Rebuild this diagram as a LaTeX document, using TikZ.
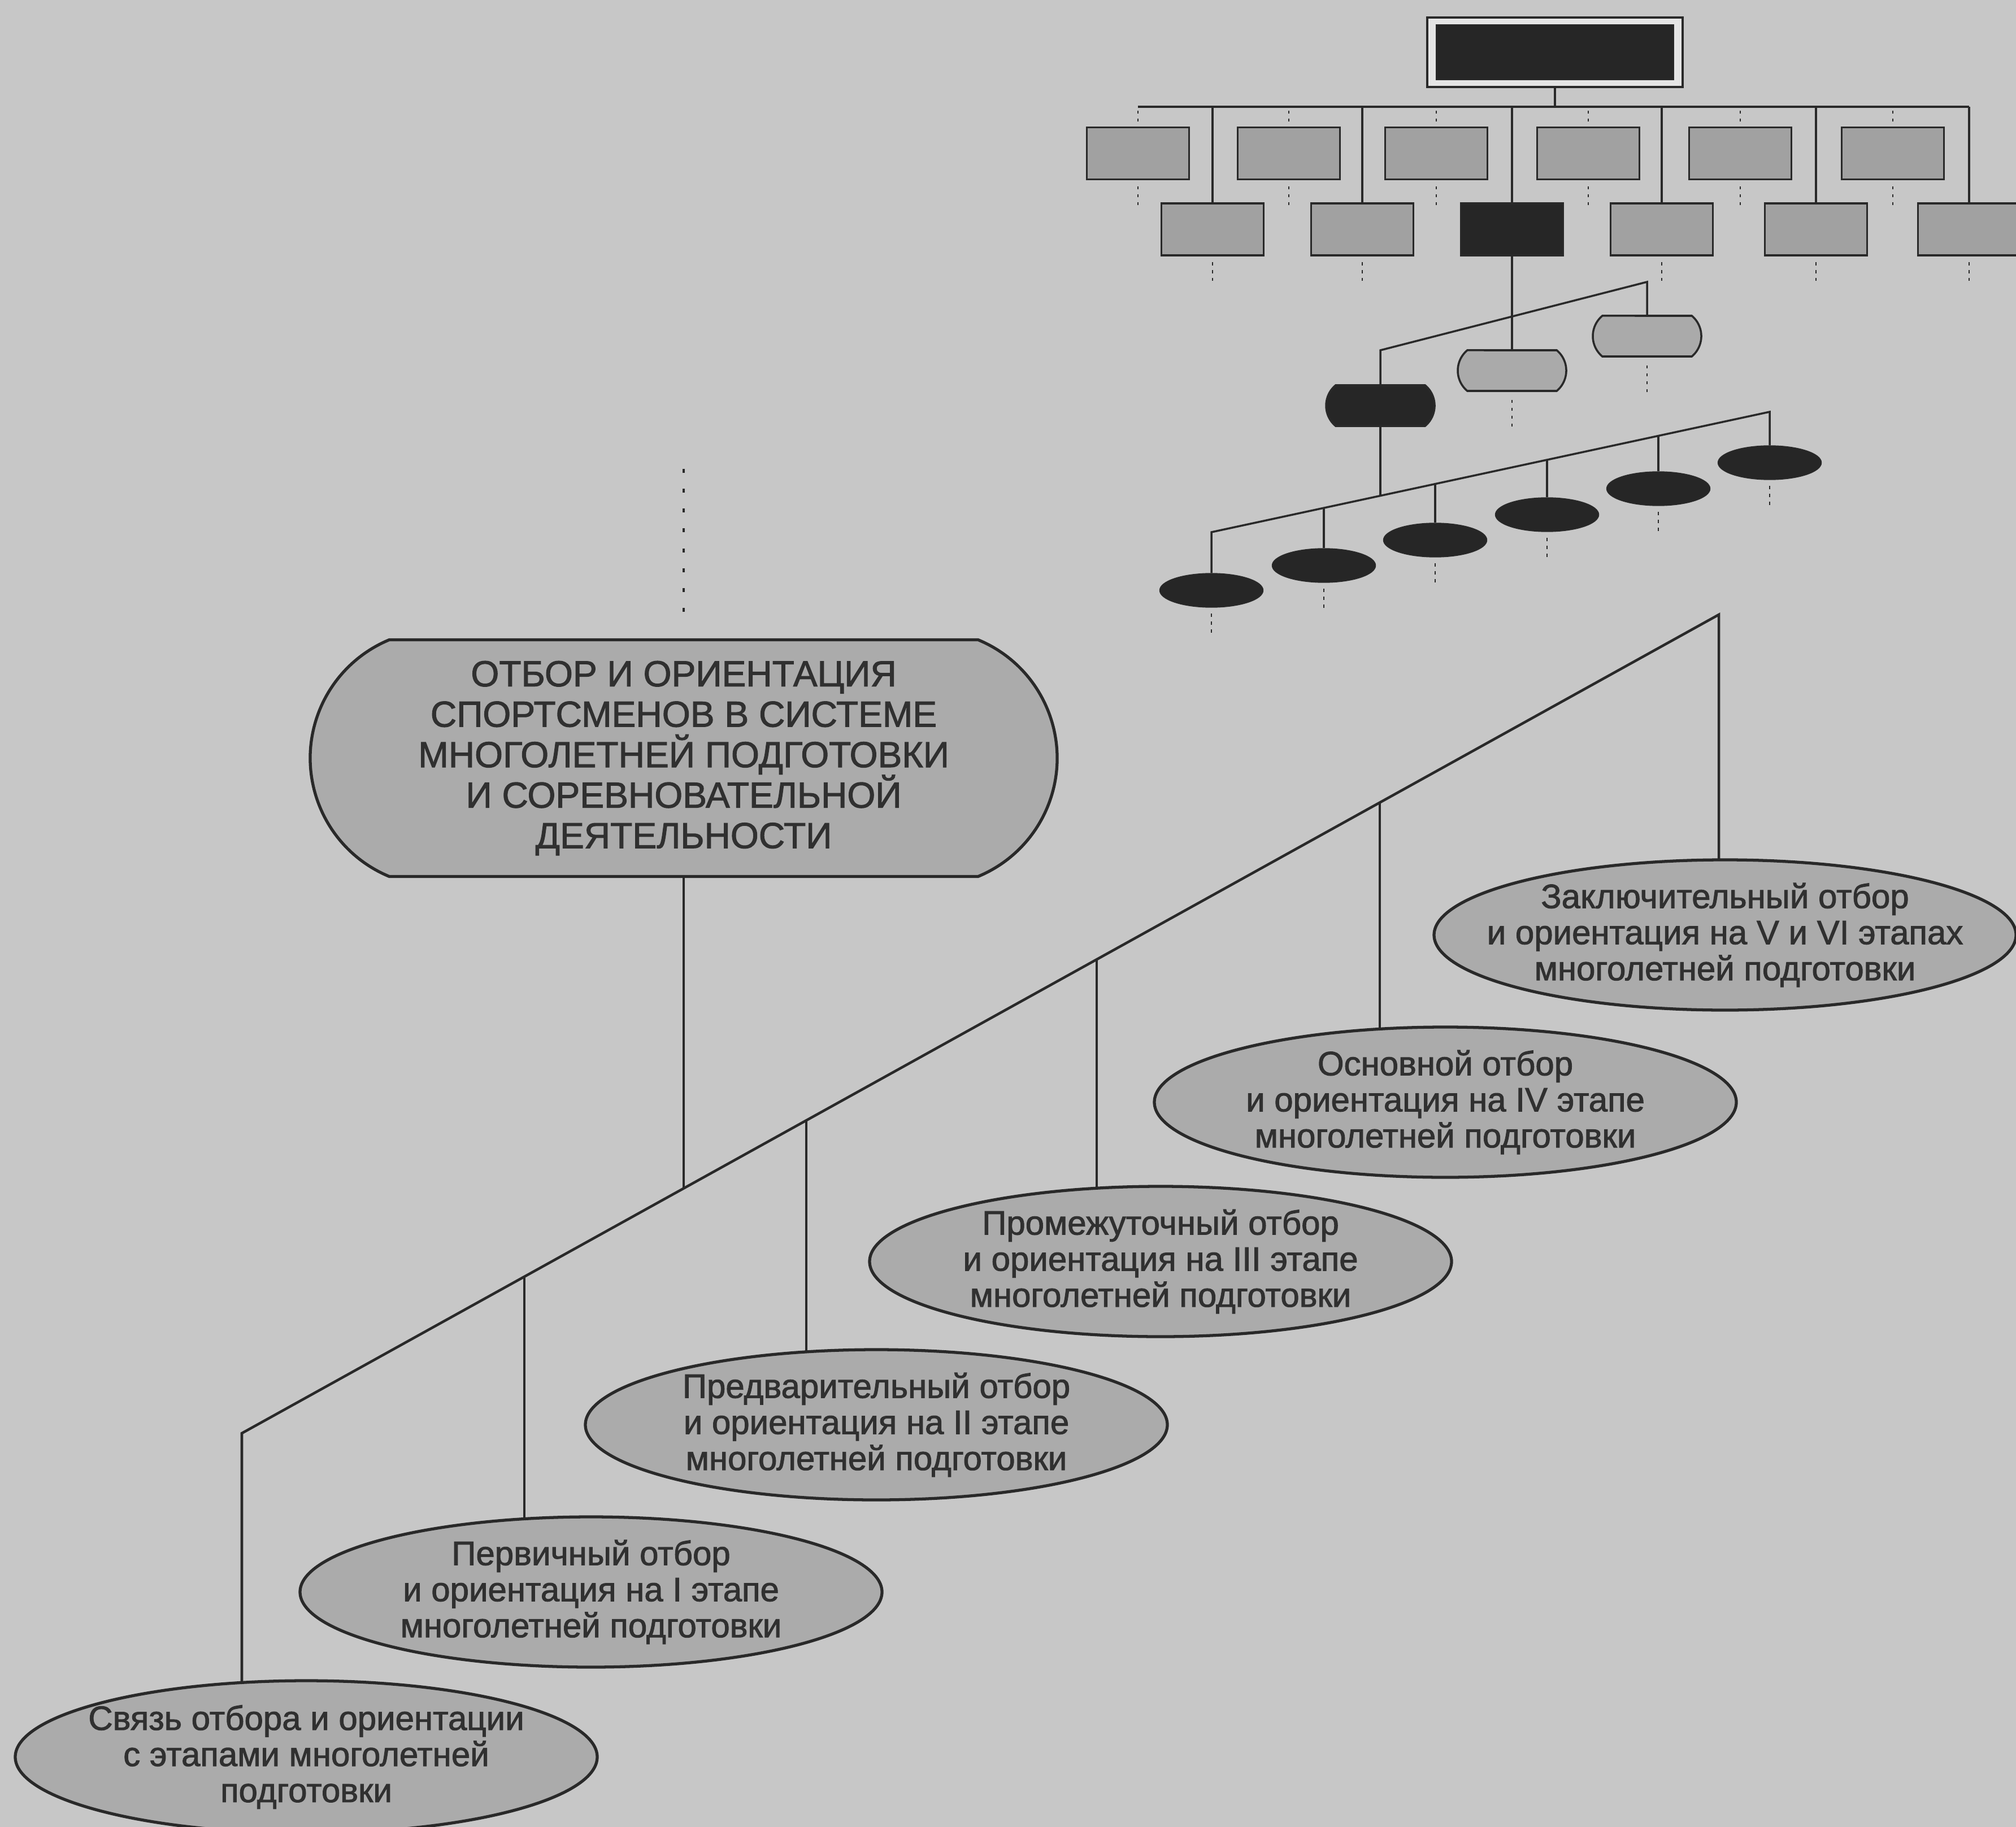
\documentclass[tikz,border=0pt]{standalone}
\usepackage{fontspec}
\setmainfont{Liberation Sans}
\newfontfamily\schemefont{Liberation Sans}[FakeBold=1.6]
\usetikzlibrary{shapes.geometric,shapes.misc,backgrounds}
\definecolor{pagegray}{gray}{0.78}
\definecolor{ovalgray}{gray}{0.67}
\definecolor{boxgray}{gray}{0.63}
\definecolor{inkgray}{gray}{0.16}
\definecolor{textgray}{gray}{0.19}
\begin{document}
\begin{tikzpicture}[every node/.style={font=\schemefont\fontsize{17bp}{18.1bp}\selectfont,align=center,text=textgray},
  stage/.style={draw=inkgray,line width=1.5pt,fill=ovalgray,ellipse,minimum width=10.3cm,minimum height=2.66cm,inner xsep=-0.6cm,inner ysep=0pt},
  link/.style={draw=inkgray,line width=1.3pt},
  orgbox/.style={draw=inkgray,line width=1pt,minimum width=1.81cm,minimum height=0.92cm,inner sep=0pt},
  pill/.style={draw=inkgray,line width=1pt,rounded rectangle,rounded rectangle arc length=100,minimum width=1.92cm,minimum height=0.72cm,inner sep=0pt},
  blackoval/.style={draw=inkgray,fill=black!85,ellipse,minimum width=1.83cm,minimum height=0.6cm,inner sep=0pt},
  orgline/.style={draw=inkgray,line width=1pt},
  tickline/.style={draw=inkgray,line width=0.8pt,dash pattern=on 1.5pt off 2.5pt}]
\useasboundingbox (0,0) rectangle (35.68,-32.34);
\begin{scope}[on background layer]
\fill[pagegray] (0,0) rectangle (35.68,-32.34);
\end{scope}
% small scheme, top right
\node[draw=inkgray,line width=1pt,fill=gray!20,minimum width=4.52cm,minimum height=1.23cm] (chief) at (27.52,-0.925) {};
\node[draw=inkgray,fill=black!85,minimum width=4.2cm,minimum height=0.97cm] (chiefin) at (27.52,-0.925) {};
\foreach \x [count=\i] in {20.14,22.81,25.42,28.11,30.80,33.50}
  \node[orgbox,fill=boxgray] (p\i) at (\x,-2.715) {};
\foreach \x/\c [count=\i] in {21.46/boxgray,24.11/boxgray,26.76/black!85,29.41/boxgray,32.14/boxgray,34.85/boxgray}
  \node[orgbox,fill=\c] (q\i) at (\x,-4.06) {};
\coordinate (busl) at (20.14,-1.89);
\coordinate (busr) at (34.85,-1.89);
\draw[orgline] (chief.south) -- (chief.south |- busl);
\draw[orgline] (busl) -- (busr);
\foreach \i in {1,...,6} {
  \draw[orgline] (q\i |- busl) -- (q\i.north);
  \draw[tickline,shorten <=2pt,shorten >=2pt] (p\i |- busl) -- (p\i.north);
  \draw[tickline] ([yshift=-3pt]p\i.south) -- ++(0,-0.35);
}
\foreach \i in {1,2,4,5,6}
  \draw[tickline] ([yshift=-3pt]q\i.south) -- ++(0,-0.33);
\node[pill,fill=black!85] (pa) at (24.43,-7.18) {};
\node[pill,fill=boxgray!90] (pb) at (26.76,-6.56) {};
\node[pill,fill=boxgray!90] (pc) at (29.15,-5.95) {};
\coordinate (pl) at (24.43,-6.20);
\coordinate (pr) at (29.15,-4.99);
\draw[orgline] (pa.north) -- (pl) -- (pr) -- (pc.north);
\draw[orgline] (q3.south) -- (pb.north);
\draw[tickline] ([yshift=-4pt]pb.south) -- ++(0,-0.5);
\draw[tickline] ([yshift=-4pt]pc.south) -- ++(0,-0.5);
\foreach \x/\y/\t [count=\i] in {21.44/-10.45/-9.42,23.43/-10.01/-8.99,25.40/-9.56/-8.57,27.38/-9.11/-8.14,29.35/-8.65/-7.71,31.32/-8.19/-7.29} {
  \node[blackoval] (e\i) at (\x,\y) {};
  \coordinate (t\i) at (\x,\t);
  \draw[tickline] ([yshift=-3pt]e\i.south) -- ++(0,-0.4);
}
\coordinate (em) at (24.43,-8.78);
\draw[orgline] (e1.north) -- (t1) -- (t6) -- (e6.north);
\foreach \i in {2,...,5}
  \draw[orgline] (t\i) -- (e\i.north);
\draw[orgline] (pa.south) -- (em);
% main scheme
\node[draw=inkgray,line width=1.5pt,fill=ovalgray,rounded rectangle,rounded rectangle arc length=135,minimum width=13.22cm,minimum height=4.19cm,inner sep=0pt,font=\schemefont\fontsize{18.2bp}{20.3bp}\selectfont] (main) at (12.10,-13.42) {ОТБОР И ОРИЕНТАЦИЯ\\СПОРТСМЕНОВ В СИСТЕМЕ\\МНОГОЛЕТНЕЙ ПОДГОТОВКИ\\И СОРЕВНОВАТЕЛЬНОЙ\\ДЕЯТЕЛЬНОСТИ};
\coordinate (dottop) at (12.10,-8.30);
\draw[draw=inkgray,line width=1.1pt,dash pattern=on 2pt off 8pt] (dottop) -- ([yshift=6pt]main.north);
\node[stage,minimum height=2.7cm] (sv) at (5.42,-31.10) {Связь отбора и ориентации\\с этапами многолетней\\подготовки};
\node[stage] (s1) at (10.46,-28.18) {Первичный отбор\\и ориентация на I этапе\\многолетней подготовки};
\node[stage] (s2) at (15.51,-25.22) {Предварительный отбор\\и ориентация на II этапе\\многолетней подготовки};
\node[stage] (s3) at (20.54,-22.33) {Промежуточный отбор\\и ориентация на III этапе\\многолетней подготовки};
\node[stage] (s4) at (25.58,-19.51) {Основной отбор\\и ориентация на IV этапе\\многолетней подготовки};
\node[stage] (s5) at (30.53,-16.55) {Заключительный отбор\\и ориентация на V и VI этапах\\многолетней подготовки};
\coordinate (g0) at (4.28,-25.37);
\coordinate (g1) at (9.28,-22.60);
\coordinate (gm) at (12.10,-21.04);
\coordinate (g2) at (14.27,-19.83);
\coordinate (g3) at (19.41,-16.98);
\coordinate (g4) at (24.42,-14.21);
\coordinate (g5) at (30.42,-10.88);
\begin{scope}[on background layer]
\draw[link] (g0 |- sv.center) -- (g0) -- (g5) -- (g5 |- s5.center);
\draw[link] (g1) -- (g1 |- s1.center);
\draw[link] (g2) -- (g2 |- s2.center);
\draw[link] (g3) -- (g3 |- s3.center);
\draw[link] (g4) -- (g4 |- s4.center);
\end{scope}
\draw[link] (main.south) -- (gm);
\end{tikzpicture}
\end{document}
